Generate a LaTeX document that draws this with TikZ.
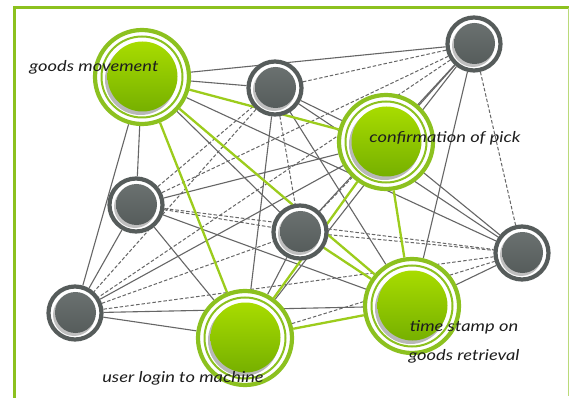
\documentclass[tikz,border=0pt]{standalone}
\usepackage{fontspec}
\usepackage{graphicx}
\setmainfont{Lato}
\usetikzlibrary{backgrounds}
\definecolor{lime}{HTML}{8CC11F}
\definecolor{limetop}{HTML}{A8DC00}
\definecolor{limebot}{HTML}{76B000}
\definecolor{limeline}{HTML}{9CCC1C}
\definecolor{darkg}{HTML}{565C5B}
\definecolor{darkgl}{HTML}{6A7170}
\definecolor{edgeg}{HTML}{666666}
\definecolor{txt}{HTML}{1E1E1E}
\tikzset{
  greennode/.style={circle, minimum size=94pt, inner sep=0pt, draw=lime, line width=4.2pt, fill=white,
    path picture={
      \coordinate (pc) at (path picture bounding box.center);
      \draw[lime, line width=2pt] (pc) circle (40.5pt);
      \fill[black!28] ([xshift=-1.5pt,yshift=-2.5pt]pc) circle (35.5pt);
      \shade[top color=limetop, bottom color=limebot] ([xshift=0.5pt,yshift=0.5pt]pc) circle (35pt);
    }},
  graynode/.style={circle, minimum size=53pt, inner sep=0pt, draw=darkg, line width=4.2pt, fill=white,
    path picture={
      \coordinate (pc) at (path picture bounding box.center);
      \fill[black!25] ([xshift=-1pt,yshift=-2pt]pc) circle (21pt);
      \shade[top color=darkgl, bottom color=darkg] ([xshift=0.5pt,yshift=0.5pt]pc) circle (20.5pt);
    }},
  solidedge/.style={draw=edgeg, line width=1.1pt},
  dashedge/.style={draw=edgeg, line width=1pt, dash pattern=on 3.5pt off 2pt},
  greenedge/.style={draw=limeline, line width=2.3pt},
  lbl/.style={text=txt, font=\fontsize{15}{17}\selectfont\itshape, inner sep=0pt},
  frame/.style={draw=lime, line width=3pt}
}
\begin{document}
\begin{tikzpicture}[x=1pt,y=-1pt]
\useasboundingbox (0,0) rectangle (570,398);
\draw[frame] (14,398) -- (14,8) -- (569,8);
\draw[draw=lime!60, line width=1pt] (568,8) -- (568,396);

\node[greennode] (A) at (142,77) {};
\node[graynode]  (B) at (275,88) {};
\node[graynode]  (C) at (474,44) {};
\node[greennode] (D) at (386,142) {};
\node[graynode]  (E) at (136,205) {};
\node[graynode]  (F) at (300,232) {};
\node[graynode]  (G) at (522,253) {};
\node[graynode]  (H) at (75,313) {};
\node[greennode] (I) at (245,338) {};
\node[greennode] (J) at (412,306) {};

\begin{scope}[on background layer]
\fill[white] (0,0) rectangle (570,398);
\foreach \a/\b in {A/B, A/C, A/E, A/H, A/F, A/G, B/I, B/J, B/D, C/F, C/I, C/J, C/D, D/G, D/E, D/H, E/H, E/I, E/J, H/I, H/J, J/G, F/I, B/G}
  \path[solidedge] (\a) -- (\b);
\foreach \a/\b in {B/C, B/E, B/H, B/F, C/G, C/E, C/H, E/F, E/G, F/G, H/G, H/F, I/G, F/D}
  \path[dashedge] (\a) -- (\b);
\foreach \a/\b in {A/D, A/I, A/J, D/I, D/J, F/J, I/J}
  \path[greenedge] (\a) -- (\b);
\end{scope}

\node[lbl] (LA) at (94,67) {\scalebox{1.22}[1]{goods movement}};
\node[lbl] (LD) at (445,138) {\scalebox{1.22}[1]{confirmation of pick}};
\node[lbl] (LI) at (183,378) {\scalebox{1.22}[1]{user login to machine}};
\node[lbl] (LJ1) at (464,327) {\scalebox{1.22}[1]{time stamp on}};
\node[lbl] (LJ2) at (464,356) {\scalebox{1.22}[1]{goods retrieval}};
\end{tikzpicture}
\end{document}
